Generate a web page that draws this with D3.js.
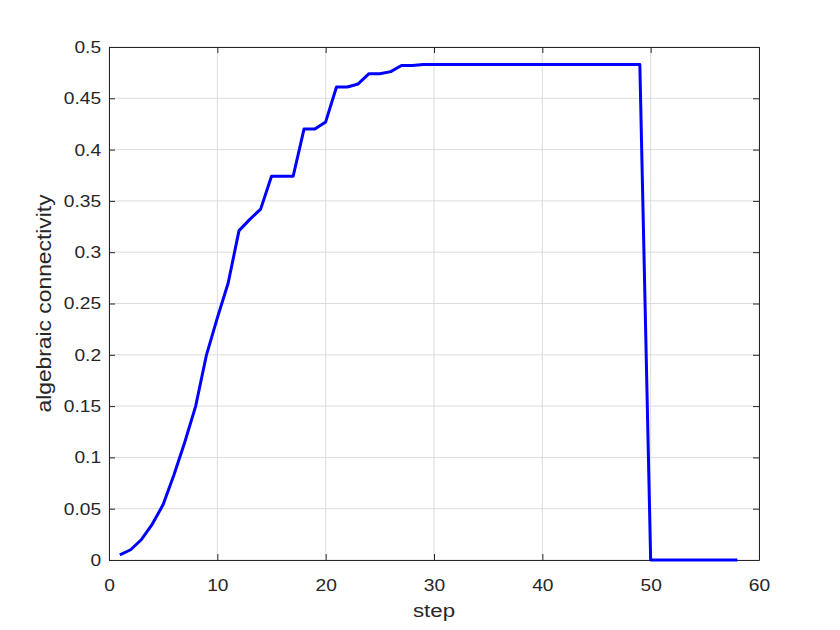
<!DOCTYPE html>
<html>
<head>
<meta charset="utf-8">
<script src="https://cdn.jsdelivr.net/npm/d3@7"></script>
<style>
  body { margin: 0; background: #fff; }
  text { font-family: "Liberation Sans", Arial, sans-serif; }
</style>
</head>
<body>
<div id="chart"></div>
<script>
// algebraic connectivity per step
const steps = d3.range(1, 59);
const connectivity = [
  0.005, 0.010, 0.020, 0.035, 0.054, 0.083, 0.115, 0.150, 0.200, 0.236,
  0.270, 0.321, 0.332, 0.342, 0.374, 0.374, 0.374, 0.420, 0.420, 0.427,
  0.461, 0.461, 0.464, 0.474, 0.474, 0.476, 0.482, 0.482, 0.483, 0.483,
  0.483, 0.483, 0.483, 0.483, 0.483, 0.483, 0.483, 0.483, 0.483, 0.483,
  0.483, 0.483, 0.483, 0.483, 0.483, 0.483, 0.483, 0.483, 0.483, 0,
  0, 0, 0, 0, 0, 0, 0, 0
];
const xTicks = [0, 10, 20, 30, 40, 50, 60];
const yTicks = [0, 0.05, 0.1, 0.15, 0.2, 0.25, 0.3, 0.35, 0.4, 0.45, 0.5];

const width = 840, height = 630;
const margin = { top: 47, right: 81, bottom: 70, left: 109 };

// the reference font is a bit wider than Liberation Sans, stretch it
const tickStretch = 1.13, labelStretch = 1.17;

const svg = d3.select("#chart")
    .append("svg")
    .attr("width", width)
    .attr("height", height);

const x = d3.scaleLinear()
    .domain([0, 60])
    .range([margin.left, width - margin.right]);

const y = d3.scaleLinear()
    .domain([0, 0.5])
    .range([height - margin.bottom, margin.top]);

// Grid lines
svg.append("g")
    .selectAll("line")
    .data(xTicks)
    .enter().append("line")
    .attr("x1", d => x(d)).attr("x2", d => x(d))
    .attr("y1", y(0)).attr("y2", y(0.5))
    .attr("stroke", "#dcdcdc").attr("stroke-width", 1);

svg.append("g")
    .selectAll("line")
    .data(yTicks)
    .enter().append("line")
    .attr("x1", x(0)).attr("x2", x(60))
    .attr("y1", d => y(d)).attr("y2", d => y(d))
    .attr("stroke", "#dcdcdc").attr("stroke-width", 1);

// Axes (ticks pointing inward, mirrored on top/right)
const fmtY = d => String(+d.toFixed(2));
const styleAxis = g => {
    g.select(".domain").attr("stroke", "#262626");
    g.selectAll(".tick line").attr("stroke", "#262626");
    g.selectAll(".tick text")
        .attr("fill", "#262626")
        .attr("transform", `scale(${tickStretch},1)`)
        .style("font-size", "17px")
        .style("font-family", "'Liberation Sans', Arial, sans-serif");
};

svg.append("g")
    .attr("transform", `translate(0,${y(0)})`)
    .call(d3.axisBottom(x).tickValues(xTicks).tickSizeInner(-6).tickSizeOuter(0).tickPadding(19))
    .call(styleAxis);

svg.append("g")
    .attr("transform", `translate(0,${y(0.5)})`)
    .call(d3.axisTop(x).tickValues(xTicks).tickSizeInner(-6).tickSizeOuter(0).tickFormat(""))
    .call(styleAxis);

svg.append("g")
    .attr("transform", `translate(${x(0)},0)`)
    .call(d3.axisLeft(y).tickValues(yTicks).tickFormat(fmtY).tickSizeInner(-6).tickSizeOuter(0).tickPadding(7))
    .call(styleAxis);

svg.append("g")
    .attr("transform", `translate(${x(60)},0)`)
    .call(d3.axisRight(y).tickValues(yTicks).tickSizeInner(-6).tickSizeOuter(0).tickFormat(""))
    .call(styleAxis);

// Line
const line = d3.line()
    .x((d, i) => x(steps[i]))
    .y(d => y(d));

svg.append("path")
    .datum(connectivity)
    .attr("fill", "none")
    .attr("stroke", "#0000ff")
    .attr("stroke-width", 3)
    .attr("stroke-linejoin", "round")
    .attr("d", line);

// Axis labels
svg.append("text")
    .attr("transform", `scale(${labelStretch},1)`)
    .attr("x", (x(0) + x(60)) / 2 / labelStretch)
    .attr("y", 617)
    .attr("text-anchor", "middle")
    .attr("fill", "#262626")
    .style("font-size", "19px")
    .text("step");

svg.append("text")
    .attr("transform", `rotate(-90) scale(${labelStretch},1)`)
    .attr("x", -(y(0) + y(0.5)) / 2 / labelStretch)
    .attr("y", 51)
    .attr("text-anchor", "middle")
    .attr("fill", "#262626")
    .style("font-size", "19.5px")
    .text("algebraic connectivity");
</script>
</body>
</html>
